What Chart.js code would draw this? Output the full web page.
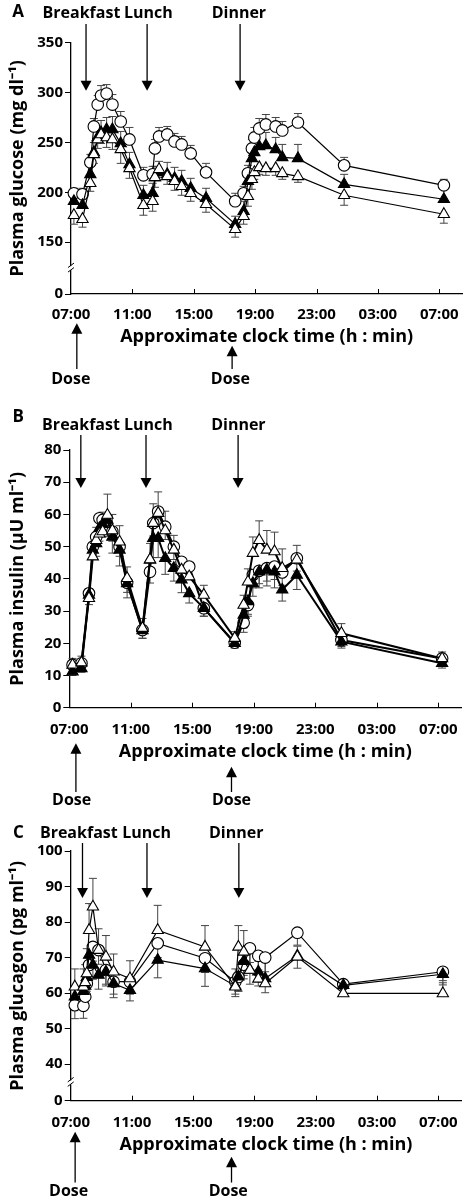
<!DOCTYPE html>
<html>
<head>
<meta charset="utf-8">
<script src="https://cdn.jsdelivr.net/npm/chart.js@4.4.0/dist/chart.umd.min.js"></script>
<style>
  body { margin: 0; background: #fff; width: 471px; height: 1202px; overflow: hidden; }
  .painel { position: absolute; left: 0; width: 471px; }
</style>
</head>
<body>
<div class="painel" style="top:0"><canvas id="graficoA" width="471" height="400"></canvas></div>
<div class="painel" style="top:400px"><canvas id="graficoB" width="471" height="415"></canvas></div>
<div class="painel" style="top:815px"><canvas id="graficoC" width="471" height="387"></canvas></div>
<script>
// Eixo x: horas desde as 07:00
const horasTicks = [0, 4, 8, 12, 16, 20, 24];
const horasRotulos = ["07:00", "11:00", "15:00", "19:00", "23:00", "03:00", "07:00"];

// Painel A - glicose
const temposA = [0.19, 0.75, 1.26, 1.49, 1.74, 1.96, 2.32, 2.7, 3.24, 3.81, 4.72, 5.32, 5.47, 5.74, 6.27, 6.75, 7.21, 7.8, 8.8, 10.7, 11.25, 11.53, 11.79, 11.95, 12.27, 12.7, 13.34, 13.77, 14.79, 17.8, 24.3];
const glicoseCirculo = [199, 198, 230, 266, 288, 297, 299, 288, 271, 253, 217, 218, 244, 256, 258, 251, 248, 239, 220, 191, 199, 219, 244, 255, 264, 268, 266, 262, 270, 227, 207];
const glicoseCheio = [191, 187, 218, 240, 255, 260, 263, 263, 249, 228, 197, 199, 215, 220, 218, 214, 211, 204, 194, 168, 181, 211, 234, 240, 246, 247, 243, 235, 234, 208, 193];
const glicoseAberto = [177, 173, 209, 238, 253, 258, 255, 253, 243, 224, 187, 191, 215, 223, 216, 211, 206, 199, 188, 163, 176, 196, 213, 220, 225, 224, 224, 219, 216, 197, 178];
const erroCirculoA = [5, 6, 8, 8, 9, 10, 9, 10, 10, 12, 8, 8, 9, 9, 8, 8, 8, 8, 9, 8, 7, 8, 9, 10, 10, 10, 9, 9, 9, 8, 6];
const erroCheioA = [8, 8, 8, 10, 10, 12, 12, 13, 12, 12, 10, 10, 11, 11, 12, 11, 11, 10, 10, 8, 10, 12, 14, 15, 14, 13, 12, 13, 14, 10, 10];
const erroAbertoA = [9, 8, 8, 9, 9, 9, 10, 10, 14, 10, 10, 10, 10, 8, 8, 9, 9, 8, 8, 8, 8, 10, 10, 7, 7, 7, 7, 6, 6, 10, 9];
const yTicksA = [0, 150, 200, 250, 300, 350];

// Painel B - insulina
const temposB = [0.21, 0.79, 1.28, 1.53, 1.75, 1.96, 2.17, 2.48, 2.8, 3.27, 3.76, 4.76, 5.25, 5.46, 5.78, 6.24, 6.8, 7.3, 7.8, 8.75, 10.76, 11.34, 11.62, 11.94, 12.35, 12.85, 13.35, 13.85, 14.8, 17.7, 24.25];
const insulinaCirculo = [13.3, 13.8, 35.5, 50, 53, 58.8, 58.3, 56.2, 54.7, 50, 38.8, 24.1, 42.2, 57.3, 60.9, 56.2, 50, 45.3, 43.8, 30.9, 20.2, 26.4, 31.9, 41.2, 42.5, 43.3, 43.8, 42, 46.4, 21, 15.3];
const insulinaCheio = [11.2, 12.2, 35, 49, 51, 55.7, 57, 58.3, 53, 49, 38.6, 24, 45.9, 52.6, 52.6, 46.4, 43.3, 39.7, 35.5, 30.9, 20, 28.8, 33, 38.6, 42.2, 42.8, 42.2, 36.6, 41.2, 20.5, 13.8];
const insulinaAberto = [13.3, 14, 34, 46.9, 52, 54, 54.7, 59.8, 55, 51.5, 40.2, 24.7, 46, 57.3, 60.4, 55, 49, 42.8, 40.7, 35, 21.6, 31.9, 39.1, 48, 52, 49, 48.5, 43.3, 45.9, 23.1, 15.3];
const erroCirculoB = [1.5, 1.5, 2, 2.5, 3, 3, 3, 3, 3, 3, 3, 2.5, 3.5, 4, 4, 4, 4, 3.5, 3, 2.5, 1.5, 3, 3.5, 4, 4, 4, 4, 4, 4, 2, 1.5];
const erroCheioB = [1.2, 1.2, 3, 3, 4, 4, 4, 4, 5, 5, 4.5, 2.5, 5, 6, 6, 5, 4, 4, 3, 2.5, 1.5, 4, 4, 4, 5, 5, 5, 3.5, 4.5, 2, 1.5];
const erroAbertoB = [2, 2, 3, 4, 4, 5, 6, 6.5, 5, 5, 3.5, 3, 5, 6, 6.6, 6, 4.5, 3, 3, 3, 2, 3, 4, 5, 6, 6, 6, 6, 4.5, 3, 2];
const yTicksB = [0, 10, 20, 30, 40, 50, 60, 70, 80];

// Painel C - glucagon
const temposC = [0.27, 0.83, 0.95, 1.05, 1.2, 1.45, 1.82, 2.3, 2.8, 3.87, 5.68, 8.77, 10.75, 10.95, 11.3, 11.7, 12.25, 12.7, 14.8, 17.8, 24.3];
const glucagonCirculo = [56.6, 56.4, 59, 62.7, 67.9, 73, 72.1, 66.5, 63.2, 63.2, 74, 69.8, 63.2, 64.5, 68, 72.6, 70.5, 70, 77, 62.5, 66];
const glucagonCheio = [59, 60.5, 62, 64.5, 70.7, 67.9, 65.1, 66, 62.7, 60.8, 69.3, 66.9, 62, 64.6, 69, 66.5, 66, 64.1, 70.5, 62.2, 65.3];
const glucagonAberto = [61.8, 61.8, 63, 65.5, 77.7, 84.3, 72.1, 70.2, 66, 64.1, 77.7, 73, 61.8, 73, 71.6, 66.5, 64, 62.7, 70.2, 59.9, 59.9];
const erroCirculoC = [3.8, 3.5, 3, 3, 4, 4, 4, 4, 3.5, 3.5, 4, 4, 3.5, 4, 4, 4, 4, 4, 3.5, 3, 2.5];
const erroCheioC = [3.5, 3.5, 3, 4, 4, 4, 4, 4, 4, 3, 5, 5, 3, 4, 4, 4, 4, 4, 3.5, 3, 3];
const erroAbertoC = [5, 5, 5, 7, 7.5, 8, 6, 6, 5, 5, 7, 6, 5, 6, 6, 5, 5, 6, 3, 3, 3];
const yTicksC = [0, 40, 50, 60, 70, 80, 90, 100];

Chart.defaults.font.family = '"Open Sans", sans-serif';
Chart.defaults.color = "#000";

// Barras de erro (desenhadas por baixo dos marcadores)
const barrasErro = {
    id: "barrasErro",
    beforeDatasetsDraw(chart) {
        const ctx = chart.ctx;
        const x = chart.scales.x;
        const y = chart.scales.y;
        ctx.save();
        ctx.strokeStyle = "#444";
        ctx.lineWidth = 1;
        chart.data.datasets.forEach((ds) => {
            ds.data.forEach((p, i) => {
                const px = x.getPixelForValue(p.x);
                const y0 = y.getPixelForValue(p.y);
                const y1 = y.getPixelForValue(p.y + ds.sentido * ds.erros[i]);
                ctx.beginPath();
                ctx.moveTo(px, y0);
                ctx.lineTo(px, y1);
                ctx.moveTo(px - 4, y1);
                ctx.lineTo(px + 4, y1);
                ctx.stroke();
            });
        });
        ctx.restore();
    }
};

// Setas das refeições, doses, letra do painel, ticks internos e quebra do eixo
const anotacoes = {
    id: "anotacoes",
    afterDraw(chart, args, op) {
        const ctx = chart.ctx;
        const x = chart.scales.x;
        const y = chart.scales.y;
        const area = chart.chartArea;
        ctx.save();
        ctx.fillStyle = "#000";
        ctx.strokeStyle = "#000";
        ctx.textAlign = "center";
        ctx.textBaseline = "middle";

        ctx.font = 'bold 17px "Open Sans"';
        ctx.fillText(op.letra, op.letraX, op.letraY);

        ctx.font = 'bold 16px "Open Sans"';
        ctx.lineWidth = 1.3;
        op.refeicoes.forEach((r) => {
            const px = x.getPixelForValue(r.hora);
            ctx.fillText(r.texto, px + r.dx, op.textoY);
            ctx.beginPath();
            ctx.moveTo(px, op.setaTopo);
            ctx.lineTo(px, op.setaPonta - 9);
            ctx.stroke();
            ctx.beginPath();
            ctx.moveTo(px - 5.5, op.setaPonta - 10);
            ctx.lineTo(px + 5.5, op.setaPonta - 10);
            ctx.lineTo(px, op.setaPonta);
            ctx.closePath();
            ctx.fill();
        });

        op.doses.forEach((d) => {
            const px = x.getPixelForValue(d.hora);
            ctx.beginPath();
            ctx.moveTo(px, d.ponta + 9);
            ctx.lineTo(px, op.doseBase);
            ctx.stroke();
            ctx.beginPath();
            ctx.moveTo(px - 5.5, d.ponta + 10.5);
            ctx.lineTo(px + 5.5, d.ponta + 10.5);
            ctx.lineTo(px, d.ponta);
            ctx.closePath();
            ctx.fill();
            ctx.fillText("Dose", px + d.dx, op.doseTextoY);
        });

        // ticks do eixo x para dentro
        ctx.lineWidth = 1;
        horasTicks.slice(1).forEach((h) => {
            const px = Math.round(x.getPixelForValue(h)) + 0.5;
            ctx.beginPath();
            ctx.moveTo(px, area.bottom);
            ctx.lineTo(px, area.bottom - 5);
            ctx.stroke();
        });

        // quebra do eixo y
        if (op.quebra !== null) {
            const py = y.getPixelForValue((op.quebra + op.primeiroTick) / 2);
            const px = area.left;
            ctx.fillStyle = "#fff";
            ctx.fillRect(px - 4, py - 2, 8, 4);
            ctx.lineWidth = 1;
            ctx.beginPath();
            ctx.moveTo(px - 3, py - 0.5);
            ctx.lineTo(px + 3, py - 5);
            ctx.moveTo(px - 3, py + 4);
            ctx.lineTo(px + 3, py - 0.5);
            ctx.stroke();
        }
        ctx.restore();
    }
};

function serie(rotulo, tempos, valores, erros, sentido, estilo, cheio, raio, espessura) {
    return {
        label: rotulo,
        data: tempos.map((t, i) => ({ x: t, y: valores[i] })),
        erros: erros,
        sentido: sentido,
        showLine: true,
        fill: false,
        tension: 0,
        borderColor: "#000",
        borderWidth: espessura,
        pointStyle: estilo,
        pointRadius: raio,
        pointBackgroundColor: cheio ? "#000" : "#fff",
        pointBorderColor: "#000",
        pointBorderWidth: 1.1,
        clip: false
    };
}

function criarPainel(id, cfg) {
    const canvas = document.getElementById(id);
    const alturaCanvas = canvas.height;
    const fonteTitulo = { size: 18, weight: "bold", family: '"Open Sans"' };
    const fonteTicks = { size: 15, weight: "bold", family: '"Open Sans"' };

    new Chart(canvas, {
        type: "scatter",
        data: { datasets: cfg.series },
        options: {
            responsive: false,
            animation: false,
            layout: { padding: { top: cfg.topo, right: 1, left: 0, bottom: 0 } },
            plugins: {
                legend: { display: false },
                tooltip: { enabled: false },
                anotacoes: cfg.anot
            },
            scales: {
                x: {
                    type: "linear",
                    min: 0,
                    max: 25.5,
                    afterFit: (s) => { s.height = alturaCanvas - cfg.base; },
                    afterBuildTicks: (s) => { s.ticks = horasTicks.map((v) => ({ value: v })); },
                    grid: { display: false, drawTicks: false },
                    border: { display: true, color: "#000", width: 1.3 },
                    ticks: {
                        color: "#000",
                        font: fonteTicks,
                        padding: cfg.padTicksX,
                        autoSkip: false,
                        maxRotation: 0,
                        callback: (v) => horasRotulos[horasTicks.indexOf(v)]
                    },
                    title: {
                        display: true,
                        text: "Approximate clock time (h : min)",
                        color: "#000",
                        font: fonteTitulo,
                        padding: { top: 0, bottom: cfg.padTituloX }
                    }
                },
                y: {
                    type: "linear",
                    min: cfg.yMin,
                    max: cfg.yMax,
                    afterFit: (s) => { s.width = cfg.esquerda; },
                    afterBuildTicks: (s) => {
                        s.ticks = cfg.yTicks.map((v) => ({ value: (v === 0 && cfg.quebra !== null) ? cfg.quebra : v }));
                    },
                    grid: { drawOnChartArea: false, drawTicks: true, tickLength: 6, tickColor: "#000", tickWidth: 1 },
                    border: { display: true, color: "#000", width: 1.3 },
                    ticks: {
                        color: "#000",
                        font: fonteTicks,
                        padding: 2,
                        callback: (v) => (cfg.quebra !== null && v === cfg.quebra) ? "0" : v
                    },
                    title: {
                        display: true,
                        text: cfg.tituloY,
                        color: "#000",
                        font: fonteTitulo,
                        padding: { top: 6.7, bottom: 0 }
                    }
                }
            }
        },
        plugins: [barrasErro, anotacoes]
    });
}

function tresSeries(tempos, aberto, erroAberto, sentAberto, cheio, erroCheio, sentCheio, circulo, erroCirculo, sentCirculo, espessura) {
    return [
        serie("Open triangles", tempos, aberto, erroAberto, sentAberto, "triangle", false, 6.5, espessura),
        serie("Filled triangles", tempos, cheio, erroCheio, sentCheio, "triangle", true, 6.5, espessura),
        serie("Open circles", tempos, circulo, erroCirculo, sentCirculo, "circle", false, 5.8, espessura)
    ];
}

criarPainel("graficoA", {
    series: tresSeries(temposA, glicoseAberto, erroAbertoA, -1, glicoseCheio, erroCheioA, 1, glicoseCirculo, erroCirculoA, 1, 1.2),
    topo: 42.7, esquerda: 71, base: 294,
    yMin: 98, yMax: 350, yTicks: yTicksA, quebra: 98,
    tituloY: "Plasma glucose (mg dl\u207B\u00B9)",
    padTituloX: 52.5, padTicksX: 12,
    anot: {
        letra: "A", letraX: 18, letraY: 12, textoY: 13.5, setaTopo: 24, setaPonta: 90.7,
        refeicoes: [
            { hora: 0.98, texto: "Breakfast", dx: -4.6 },
            { hora: 4.96, texto: "Lunch", dx: 1.3 },
            { hora: 11.02, texto: "Dinner", dx: -1.2 }
        ],
        doses: [{ hora: 0.38, ponta: 323.3, dx: -6 }, { hora: 10.5, ponta: 345.7, dx: -1.7 }],
        doseBase: 369, doseTextoY: 379, quebra: 98, primeiroTick: 150
    }
});

criarPainel("graficoB", {
    series: tresSeries(temposB, insulinaAberto, erroAbertoB, 1, insulinaCheio, erroCheioB, -1, insulinaCirculo, erroCirculoB, -1, 2),
    topo: 50, esquerda: 69.3, base: 307.7,
    yMin: 0, yMax: 80, yTicks: yTicksB, quebra: null,
    tituloY: "Plasma insulin (\u00B5U ml\u207B\u00B9)",
    padTituloX: 52.5, padTicksX: 13,
    anot: {
        letra: "B", letraX: 18.3, letraY: 16.7, textoY: 25, setaTopo: 35, setaPonta: 88,
        refeicoes: [
            { hora: 0.75, texto: "Breakfast", dx: 0.2 },
            { hora: 4.99, texto: "Lunch", dx: 2.3 },
            { hora: 10.98, texto: "Dinner", dx: 0.3 }
        ],
        doses: [{ hora: 0.43, ponta: 343.3, dx: -4.3 }, { hora: 10.55, ponta: 366.7, dx: 0 }],
        doseBase: 392, doseTextoY: 400.5, quebra: null, primeiroTick: 10
    }
});

criarPainel("graficoC", {
    series: tresSeries(temposC, glucagonAberto, erroAbertoC, 1, glucagonCheio, erroCheioC, -1, glucagonCirculo, erroCirculoC, -1, 1.2),
    topo: 36, esquerda: 70.7, base: 285.7,
    yMin: 29.7, yMax: 100, yTicks: yTicksC, quebra: 29.7,
    tituloY: "Plasma glucagon (pg ml\u207B\u00B9)",
    padTituloX: 46.2, padTicksX: 13,
    anot: {
        letra: "C", letraX: 18.3, letraY: 18.3, textoY: 18.3, setaTopo: 28, setaPonta: 83,
        refeicoes: [
            { hora: 0.77, texto: "Breakfast", dx: -3.7 },
            { hora: 4.98, texto: "Lunch", dx: -0.4 },
            { hora: 10.98, texto: "Dinner", dx: -2.7 }
        ],
        doses: [{ hora: 0.29, ponta: 316.7, dx: -6.5 }, { hora: 10.5, ponta: 341.7, dx: -3.3 }],
        doseBase: 367.5, doseTextoY: 376.7, quebra: 29.7, primeiroTick: 40
    }
});
</script>
</body>
</html>
